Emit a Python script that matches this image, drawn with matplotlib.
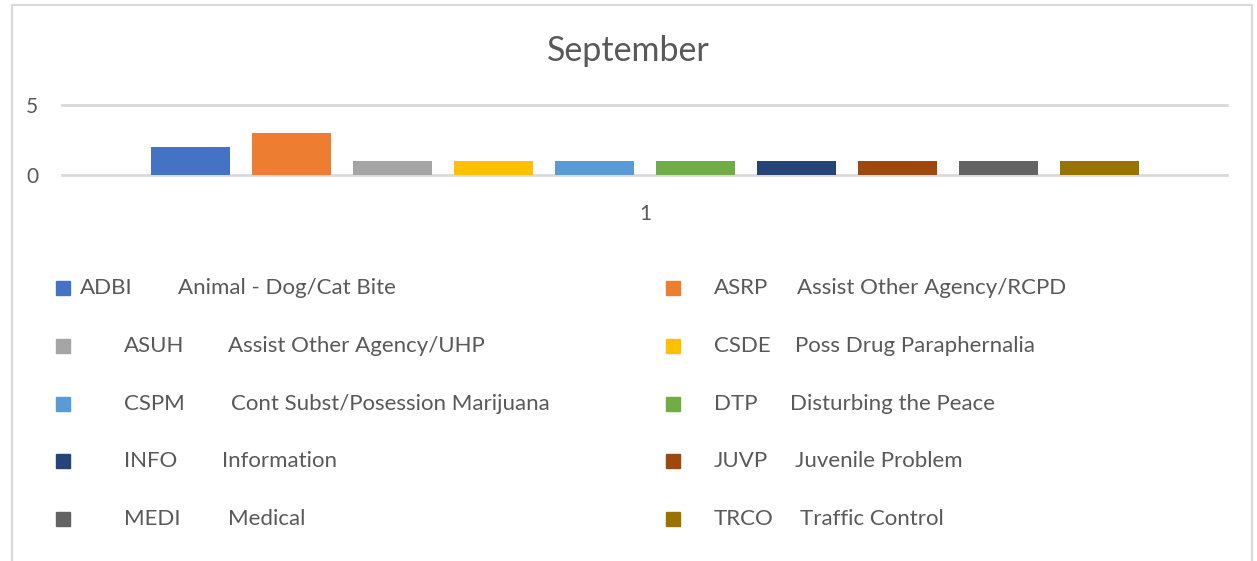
import matplotlib
matplotlib.use("Agg")
import matplotlib.pyplot as plt
from matplotlib.patches import Rectangle

# ---- data ----
title = "September"
category_labels = ["1"]
codes = ["ADBI", "ASRP", "ASUH", "CSDE", "CSPM", "DTP", "INFO", "JUVP", "MEDI", "TRCO"]
descriptions = ["Animal - Dog/Cat Bite", "Assist Other Agency/RCPD", "Assist Other Agency/UHP",
                "Poss Drug Paraphernalia", "Cont Subst/Posession Marijuana", "Disturbing the Peace",
                "Information", "Juvenile Problem", "Medical", "Traffic Control"]
values = [2, 3, 1, 1, 1, 1, 1, 1, 1, 1]
yticks = [0, 5]

# ---- style ----
colors = ["#4472C4", "#ED7D31", "#A5A5A5", "#FFC000", "#5B9BD5",
          "#70AD47", "#264478", "#9E480E", "#636363", "#997300"]
code_x = [80, 714, 124, 714, 124, 714, 124, 714, 124, 714]
desc_x = [178, 797, 228, 795, 231, 790, 222, 795, 228, 800]
marker_x = [56, 666]
row_y = [288, 346, 404, 461, 519]

W, H = 1257, 561
plt.rcParams['font.family'] = ['Lato', 'DejaVu Sans']
txt = "#595959"
grid = "#D9D9D9"

fig = plt.figure(figsize=(W / 100, H / 100), dpi=100)

def fx(x):
    return x / W

def fy(y):
    return 1 - y / H

# chart border
fig.patches.append(Rectangle((fx(12), fy(575)), fx(1252) - fx(12), fy(5) - fy(575),
                             transform=fig.transFigure, fill=False, edgecolor=grid, lw=1.5))

ax = fig.add_axes([fx(62), fy(175), fx(1227) - fx(62), fy(105) - fy(175)])
n = len(values)
step = 1.0
bw = 0.78
for i, (v, c) in enumerate(zip(values, colors)):
    ax.bar((i - (n - 1) / 2) * step, v, width=bw, color=c, zorder=3)
ax.set_xlim(-5.77, 5.76)
ax.set_ylim(0, 5)
ax.set_yticks(yticks)
ax.set_yticklabels([str(t) for t in yticks], color=txt, fontsize=15)
ax.set_xticks([0])
ax.set_xticklabels(category_labels, color=txt, fontsize=15)
ax.tick_params(axis='both', length=0)
ax.tick_params(axis='y', pad=17)
ax.tick_params(axis='x', pad=21)
for s in ax.spines.values():
    s.set_visible(False)
for t in yticks:
    ax.axhline(t, color=grid, lw=2, zorder=1, clip_on=False)
ax.patch.set_alpha(0)

fig.text(0.5, fy(51), title, ha='center', va='center', fontsize=24.5, color=txt)

for i in range(n):
    col = i % 2
    row = i // 2
    y = row_y[row]
    mx = marker_x[col]
    fig.patches.append(Rectangle((fx(mx), fy(y + 7)), fx(14), 14 / H,
                                 transform=fig.transFigure, color=colors[i]))
    fig.text(fx(code_x[i]), fy(y), codes[i], ha='left', va='center', fontsize=16, color=txt)
    fig.text(fx(desc_x[i]), fy(y), descriptions[i], ha='left', va='center', fontsize=16, color=txt)

fig.savefig("out.png", dpi=100)
